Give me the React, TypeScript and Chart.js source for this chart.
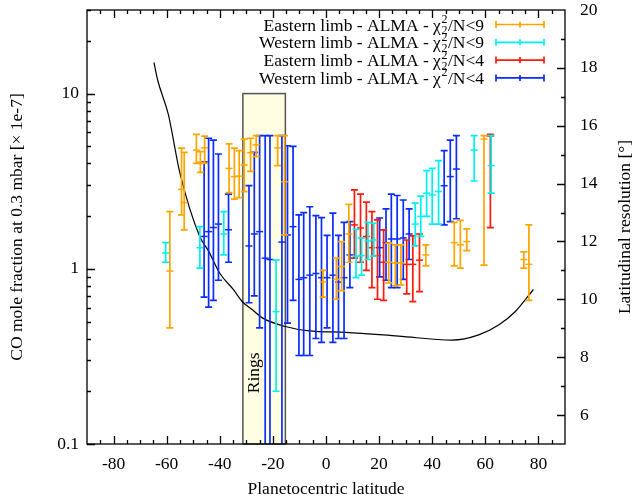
import React, { useEffect, useRef } from "react";
import Chart from "chart.js/auto";

// ---- Data ----
// Eastern limb - ALMA - chi2/N<9 (orange)
const eastLat9 = [-58.8, -54.4, -53.4, -48.8, -47.3, -45.7, -36.5, -34.5, -32.7, -30.8, -28.4, -26.3, -18.2, -15.6, -1.1, 3.9, 5.9, 8.6, 23.6, 26.1, 28.2, 37.6, 48.3, 50.6, 53.0, 59.5, 74.5, 76.4];
const eastMid9 = [0.97, 2.84, 2.39, 4.76, 4.06, 4.9, 3.74, 3.36, 3.38, 3.91, 4.6, 5.1, 4.9, 3.14, 0.84, 0.87, 1.03, 1.58, 1.09, 1.08, 1.08, 1.2, 1.41, 1.37, 1.43, 5.5, 1.13, 1.06];
const eastLo9 = [0.46, 2.03, 1.67, 4.0, 3.55, 4.0, 2.72, 2.5, 2.55, 2.76, 3.6, 4.37, 3.88, 1.56, 0.69, 0.67, 0.75, 1.09, 0.83, 0.8, 0.81, 1.04, 1.04, 1.01, 1.27, 1.05, 1.01, 0.66];
const eastHi9 = [2.12, 4.88, 4.62, 5.85, 4.66, 5.72, 5.17, 4.88, 4.73, 5.5, 5.56, 5.75, 5.75, 5.75, 0.98, 1.15, 1.43, 2.33, 1.4, 1.37, 1.37, 1.37, 1.84, 1.89, 1.69, 5.75, 1.25, 1.78];

// Western limb - ALMA - chi2/N<9 (cyan)
const westLat9 = [-60.4, -47.5, -38.5, -18.8, 11.3, 13.4, 15.8, 18.0, 33.6, 35.7, 37.9, 40.0, 42.4, 55.8, 62.2];
const westMid9 = [1.23, 1.32, 1.58, 0.57, 1.18, 1.19, 1.44, 1.46, 1.8, 1.99, 2.7, 2.64, 2.76, 4.76, 3.88];
const westLo9 = [1.09, 1.01, 1.2, 0.2, 0.89, 0.92, 1.13, 1.18, 1.35, 1.53, 1.99, 1.8, 1.8, 3.17, 2.7];
const westHi9 = [1.41, 1.74, 2.12, 1.12, 1.68, 1.5, 1.84, 1.82, 2.37, 2.6, 3.63, 3.74, 4.14, 5.75, 5.75];

// Eastern limb - ALMA - chi2/N<4 (red)
const eastLat4 = [10.7, 13.0, 15.2, 17.3, 19.4, 21.7, 30.4, 32.7, 35.2, 61.9];
const eastMid4 = [1.78, 1.71, 1.53, 1.32, 1.19, 1.09, 1.06, 1.06, 1.12, 5.72];
const eastLo4 = [1.15, 1.09, 0.98, 0.78, 0.67, 0.66, 0.72, 0.65, 0.74, 1.72];
const eastHi4 = [2.82, 2.67, 2.4, 2.12, 1.9, 1.67, 1.46, 1.54, 1.58, 5.85];

// Western limb - ALMA - chi2/N<4 (blue)
const westLat4 = [-45.9, -44.2, -42.4, -40.5, -36.7, -29.0, -27.0, -25.0, -22.9, -21.1, -16.6, -14.5, -12.4, -10.2, -8.4, -6.1, -3.8, -1.7, 0.4, 2.6, 4.7, 6.8, 9.0, 20.2, 22.6, 24.6, 26.8, 29.1, 31.3, 44.5, 46.8, 49.1];
const westMid4 = [1.53, 1.63, 1.72, 1.8, 1.67, 1.35, 1.58, 1.63, 1.15, 1.13, 1.42, 1.56, 1.74, 0.87, 0.89, 0.92, 0.94, 0.89, 0.89, 0.92, 0.84, 0.89, 1.2, 1.32, 1.41, 1.48, 1.48, 1.5, 1.58, 2.98, 3.36, 3.71];
const westLo4 = [0.69, 0.605, 0.66, 0.86, 1.09, 0.64, 0.7, 0.46, 0.05, 0.05, 0.05, 0.49, 0.66, 0.32, 0.32, 0.32, 0.4, 0.38, 0.46, 0.38, 0.4, 0.4, 0.78, 0.9, 0.86, 0.78, 0.78, 0.87, 1.13, 1.78, 1.86, 1.93];
const westHi4 = [4.08, 5.56, 5.43, 4.52, 2.67, 2.98, 4.62, 5.75, 5.75, 5.75, 5.75, 5.04, 5.0, 2.03, 2.09, 2.26, 2.01, 1.96, 1.55, 2.08, 1.55, 1.84, 1.86, 1.95, 2.2, 2.67, 2.62, 2.47, 2.2, 4.73, 5.43, 5.75];

// Latitudinal resolution curve (right axis)
const resLat = [-64.8, -63.4, -59.4, -55.0, -47.5, -44.4, -40.0, -35.0, -31.3, -27.6, -23.8, -15.7, -6.4, 7.4, 27.3, 47.5, 57.5, 65.0, 71.2, 78.1];
const resVal = [18.19, 17.58, 16.4, 14.36, 12.16, 11.7, 10.9, 10.35, 9.9, 9.63, 9.35, 9.07, 8.91, 8.86, 8.73, 8.59, 8.77, 9.11, 9.57, 10.34];

// Axis ticks
const xTicks = [-80, -60, -40, -20, 0, 20, 40, 60, 80];
const yTicks = [0.1, 1, 10];
const y2Ticks = [6, 8, 10, 12, 14, 16, 18, 20];

// Rings band
const ringsLat = [-31.3, -15.3];
const ringsBottom = 0.1;
const ringsTop = 10;
const ringsLabelLat = -27;
const ringsLabelVal = 0.255;

const legendLabels = [
  { pre: "Eastern limb - ALMA - \u03c7", sub: true, post: "/N<9" },
  { pre: "Western limb - ALMA - \u03c7", sub: true, post: "/N<9" },
  { pre: "Eastern limb - ALMA - \u03c7", sub: true, post: "/N<4" },
  { pre: "Western limb - ALMA - \u03c7", sub: false, post: "/N<4" },
];
const seriesColors = ["#ffa500", "#00f0f0", "#ff1a0a", "#0a2cff"];

const FONT = "'Liberation Serif', 'Times New Roman', serif";
const FS = 17.5;

function pts(lat: number[], mid: number[], lo: number[], hi: number[]) {
  return lat.map((x, i) => ({ x, y: mid[i], yMin: lo[i], yMax: hi[i] }));
}

const errorBarPlugin = {
  id: "errbars",
  beforeDatasetDraw(chart: any, args: any) {
    const ds = chart.data.datasets[args.index];
    if (!ds.errorBars) return;
    const { ctx, chartArea: a } = chart;
    const xs = chart.scales.x;
    const ys = chart.scales.y;
    ctx.save();
    ctx.beginPath();
    ctx.rect(a.left, a.top, a.right - a.left, a.bottom - a.top);
    ctx.clip();
    ctx.strokeStyle = ds.borderColor;
    ctx.lineWidth = 1.7;
    const cap = 3.5;
    for (const p of ds.data) {
      const px = xs.getPixelForValue(p.x);
      const y1 = ys.getPixelForValue(p.yMin);
      const y2 = ys.getPixelForValue(p.yMax);
      ctx.beginPath();
      ctx.moveTo(px, y1);
      ctx.lineTo(px, y2);
      ctx.moveTo(px - cap, y1);
      ctx.lineTo(px + cap, y1);
      ctx.moveTo(px - cap, y2);
      ctx.lineTo(px + cap, y2);
      ctx.stroke();
    }
    ctx.restore();
  },
};

const ringsPlugin = {
  id: "rings",
  beforeDatasetsDraw(chart: any) {
    const { ctx } = chart;
    const xs = chart.scales.x;
    const ys = chart.scales.y;
    const x1 = xs.getPixelForValue(ringsLat[0]);
    const x2 = xs.getPixelForValue(ringsLat[1]);
    const yb = ys.getPixelForValue(ringsBottom);
    const yt = ys.getPixelForValue(ringsTop);
    ctx.save();
    ctx.fillStyle = "#fffee3";
    ctx.fillRect(x1, yt, x2 - x1, yb - yt);
    ctx.strokeStyle = "#555";
    ctx.lineWidth = 1.5;
    ctx.strokeRect(x1, yt, x2 - x1, yb - yt);
    ctx.translate(xs.getPixelForValue(ringsLabelLat), ys.getPixelForValue(ringsLabelVal));
    ctx.rotate(-Math.PI / 2);
    ctx.fillStyle = "#000";
    ctx.font = `${FS}px ${FONT}`;
    ctx.textAlign = "center";
    ctx.textBaseline = "middle";
    ctx.fillText("Rings", 0, 0);
    ctx.restore();
  },
};

const framePlugin = {
  id: "frame",
  afterDraw(chart: any) {
    const { ctx, chartArea: a } = chart;
    const xs = chart.scales.x;
    const ys = chart.scales.y;
    const y2 = chart.scales.y2;
    ctx.save();
    ctx.strokeStyle = "#000";
    ctx.lineWidth = 1.3;
    ctx.strokeRect(a.left, a.top, a.right - a.left, a.bottom - a.top);
    ctx.beginPath();
    // x ticks (bottom & top), major every 20, minor every 5
    for (let v = -85; v <= 85; v += 5) {
      const px = Math.round(xs.getPixelForValue(v)) + 0.5;
      const len = v % 20 === 0 ? 8 : 4;
      ctx.moveTo(px, a.bottom);
      ctx.lineTo(px, a.bottom - len);
      ctx.moveTo(px, a.top);
      ctx.lineTo(px, a.top + len);
    }
    // left log ticks
    for (let d = 0.1; d < 50; d *= 10) {
      for (let m = 1; m <= 9; m++) {
        const v = d * m;
        if (v > 30.01 || v < 0.099) continue;
        const py = Math.round(ys.getPixelForValue(v)) + 0.5;
        const len = m === 1 ? 8 : 4;
        ctx.moveTo(a.left, py);
        ctx.lineTo(a.left + len, py);
      }
    }
    // right linear ticks
    for (let v = 6; v <= 19; v += 1) {
      const py = Math.round(y2.getPixelForValue(v)) + 0.5;
      const len = v % 2 === 0 ? 8 : 4;
      ctx.moveTo(a.right, py);
      ctx.lineTo(a.right - len, py);
    }
    ctx.stroke();

    // Axis titles
    ctx.fillStyle = "#000";
    ctx.font = `${FS}px ${FONT}`;
    ctx.textAlign = "center";
    ctx.textBaseline = "middle";
    ctx.fillText("Planetocentric latitude", (a.left + a.right) / 2, 489);
    const cy = (a.top + a.bottom) / 2;
    ctx.save();
    ctx.translate(17, cy);
    ctx.rotate(-Math.PI / 2);
    ctx.fillText("CO mole fraction at 0.3 mbar [\u00d7 1e-7]", 0, 0);
    ctx.restore();
    ctx.save();
    ctx.translate(625, cy);
    ctx.rotate(-Math.PI / 2);
    ctx.fillText("Latitudinal resolution [\u00b0]", 0, 0);
    ctx.restore();

    // Legend
    const rightX = 484;
    const y0 = 24.5;
    const dy = 17.8;
    legendLabels.forEach((lab, i) => {
      const y = y0 + dy * i;
      const base = y + 6;
      ctx.textAlign = "left";
      ctx.textBaseline = "alphabetic";
      ctx.font = `${FS}px ${FONT}`;
      const w1 = ctx.measureText(lab.pre).width;
      const w3 = ctx.measureText(lab.post).width;
      ctx.font = `12px ${FONT}`;
      const w2 = ctx.measureText("2").width + 1;
      const start = rightX - (w1 + w2 + w3);
      ctx.font = `${FS}px ${FONT}`;
      ctx.fillText(lab.pre, start, base);
      ctx.font = `12px ${FONT}`;
      ctx.fillText("2", start + w1 + 0.5, base - 7.5);
      if (lab.sub) ctx.fillText("2", start + w1 + 0.5, base + 3.5);
      ctx.font = `${FS}px ${FONT}`;
      ctx.fillText(lab.post, start + w1 + w2, base);
      // sample
      ctx.strokeStyle = seriesColors[i];
      ctx.lineWidth = 1.7;
      const sx1 = 496;
      const sx2 = 544;
      const sm = (sx1 + sx2) / 2;
      ctx.beginPath();
      ctx.moveTo(sx1, y);
      ctx.lineTo(sx2, y);
      ctx.moveTo(sx1, y - 3.5);
      ctx.lineTo(sx1, y + 3.5);
      ctx.moveTo(sx2, y - 3.5);
      ctx.lineTo(sx2, y + 3.5);
      ctx.moveTo(sm, y - 3);
      ctx.lineTo(sm, y + 3);
      ctx.stroke();
    });
    ctx.restore();
  },
};

function zeroPad(s: any) {
  s.paddingTop = 0;
  s.paddingBottom = 0;
  s.paddingLeft = 0;
  s.paddingRight = 0;
}

export default function App() {
  const ref = useRef<HTMLCanvasElement | null>(null);
  useEffect(() => {
    if (!ref.current) return;
    const mk = (label: string, data: any[], color: string) => ({
      label,
      data,
      borderColor: color,
      backgroundColor: color,
      pointStyle: "line",
      pointRadius: 3.5,
      pointBorderWidth: 1.5,
      borderWidth: 1.5,
      showLine: false,
      errorBars: true,
      yAxisID: "y",
    });
    const tickFont = { family: FONT, size: FS };
    const chart = new Chart(ref.current, {
      type: "scatter",
      data: {
        datasets: [
          mk("Eastern limb - ALMA - chi2/N<9", pts(eastLat9, eastMid9, eastLo9, eastHi9), seriesColors[0]),
          mk("Western limb - ALMA - chi2/N<9", pts(westLat9, westMid9, westLo9, westHi9), seriesColors[1]),
          mk("Eastern limb - ALMA - chi2/N<4", pts(eastLat4, eastMid4, eastLo4, eastHi4), seriesColors[2]),
          mk("Western limb - ALMA - chi2/N<4", pts(westLat4, westMid4, westLo4, westHi4), seriesColors[3]),
          {
            label: "Latitudinal resolution",
            data: resLat.map((x, i) => ({ x, y: resVal[i] })),
            borderColor: "#000",
            backgroundColor: "#000",
            borderWidth: 1.2,
            pointRadius: 0,
            showLine: true,
            cubicInterpolationMode: "monotone",
            yAxisID: "y2",
          } as any,
        ] as any,
      },
      options: {
        responsive: false,
        animation: false,
        layout: { padding: { top: 10, left: 0, right: 0, bottom: 0 } },
        plugins: { legend: { display: false }, tooltip: { enabled: false } },
        scales: {
          x: {
            type: "linear",
            position: "bottom",
            min: -90,
            max: 90,
            grid: { display: false, drawTicks: false },
            border: { display: false },
            afterBuildTicks: (s: any) => {
              s.ticks = xTicks.map((v) => ({ value: v }));
            },
            afterFit: (s: any) => {
              s.height = 56;
              zeroPad(s);
            },
            ticks: {
              autoSkip: false,
              maxRotation: 0,
              padding: 10,
              color: "#000",
              font: tickFont,
              callback: (v: any) => String(v),
            },
          },
          y: {
            type: "logarithmic",
            position: "left",
            min: 0.1,
            max: 30,
            grid: { display: false, drawTicks: false },
            border: { display: false },
            afterBuildTicks: (s: any) => {
              s.ticks = yTicks.map((v) => ({ value: v }));
            },
            afterFit: (s: any) => {
              s.width = 87;
              zeroPad(s);
            },
            ticks: {
              autoSkip: false,
              padding: 8,
              color: "#000",
              font: tickFont,
              callback: (v: any) => String(v),
            },
          },
          y2: {
            type: "linear",
            position: "right",
            min: 5,
            max: 20,
            grid: { display: false, drawTicks: false },
            border: { display: false },
            afterBuildTicks: (s: any) => {
              s.ticks = y2Ticks.map((v) => ({ value: v }));
            },
            afterFit: (s: any) => {
              s.width = 69;
              zeroPad(s);
            },
            ticks: {
              autoSkip: false,
              padding: 15,
              color: "#000",
              font: tickFont,
              callback: (v: any) => String(v),
            },
          },
        },
      } as any,
      plugins: [ringsPlugin, errorBarPlugin, framePlugin],
    });
    return () => chart.destroy();
  }, []);
  return (
    <div style={{ position: "fixed", left: 0, top: 0, width: 634, height: 500, background: "#fff" }}>
      <canvas ref={ref} width={634} height={500} style={{ display: "block" }} />
    </div>
  );
}
